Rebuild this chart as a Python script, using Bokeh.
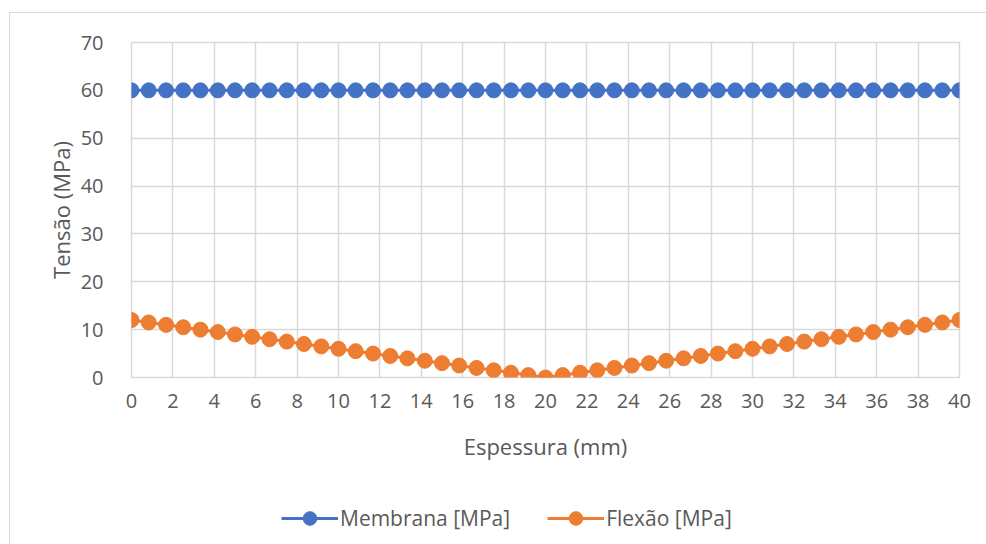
from bokeh.plotting import figure
from bokeh.models import Legend, LegendItem, FixedTicker
from bokeh.layouts import column
from bokeh.embed import file_html
from bokeh.resources import INLINE

espessura = [0, 0.83, 1.67, 2.5, 3.33, 4.17, 5, 5.83, 6.67, 7.5, 8.33, 9.17,
             10, 10.83, 11.67, 12.5, 13.33, 14.17, 15, 15.83, 16.67, 17.5, 18.33, 19.17,
             20, 20.83, 21.67, 22.5, 23.33, 24.17, 25, 25.83, 26.67, 27.5, 28.33, 29.17,
             30, 30.83, 31.67, 32.5, 33.33, 34.17, 35, 35.83, 36.67, 37.5, 38.33, 39.17, 40]
membrana = [60, 60, 60, 60, 60, 60, 60, 60, 60, 60, 60, 60,
            60, 60, 60, 60, 60, 60, 60, 60, 60, 60, 60, 60,
            60, 60, 60, 60, 60, 60, 60, 60, 60, 60, 60, 60,
            60, 60, 60, 60, 60, 60, 60, 60, 60, 60, 60, 60, 60]
flexao = [12, 11.5, 11, 10.5, 10, 9.5, 9, 8.5, 8, 7.5, 7, 6.5,
          6, 5.5, 5, 4.5, 4, 3.5, 3, 2.5, 2, 1.5, 1, 0.5,
          0, 0.5, 1, 1.5, 2, 2.5, 3, 3.5, 4, 4.5, 5, 5.5,
          6, 6.5, 7, 7.5, 8, 8.5, 9, 9.5, 10, 10.5, 11, 11.5, 12]
x_ticks = list(range(0, 41, 2))
y_ticks = [0, 10, 20, 30, 40, 50, 60, 70]
series_names = ["Membrana [MPa]", "Flexão [MPa]"]
colors = ["#4472C4", "#ED7D31"]

FONT = "Open Sans"
TXT = "#595959"
GRID = "#d9d9d9"

p = figure(width=977, height=470, output_backend="svg", toolbar_location=None,
           x_range=(0, 40), y_range=(0, 70),
           min_border_left=121, min_border_right=28, min_border_top=29, min_border_bottom=106)
p.outline_line_color = GRID
p.outline_line_width = 1.5

for ys, c in zip([membrana, flexao], colors):
    p.line(espessura, ys, line_color=c, line_width=3)
    p.scatter(espessura, ys, size=15, fill_color=c, line_color=c)

p.xaxis.ticker = FixedTicker(ticks=x_ticks)
p.yaxis.ticker = FixedTicker(ticks=y_ticks)
for ax in (p.xaxis[0], p.yaxis[0]):
    ax.axis_line_color = None
    ax.major_tick_line_color = None
    ax.minor_tick_line_color = None
    ax.major_label_text_font = FONT
    ax.major_label_text_font_size = "20px"
    ax.major_label_text_color = TXT
    ax.axis_label_text_font = FONT
    ax.axis_label_text_font_size = "22px"
    ax.axis_label_text_font_style = "normal"
    ax.axis_label_text_color = TXT

p.xaxis.axis_label = "Espessura (mm)"
p.yaxis.axis_label = "Tensão (MPa)"
p.xaxis.major_label_standoff = 10
p.xaxis.axis_label_standoff = 20
p.yaxis.major_label_standoff = 22
p.yaxis.axis_label_standoff = 2

p.xgrid.ticker = FixedTicker(ticks=x_ticks)
p.ygrid.ticker = FixedTicker(ticks=y_ticks)
p.xgrid.grid_line_color = GRID
p.ygrid.grid_line_color = GRID
p.xgrid.grid_line_width = 1.5
p.ygrid.grid_line_width = 1.5

# legend strip below the chart (same series, drawn outside its visible range)
lp = figure(width=977, height=62, output_backend="svg", toolbar_location=None,
            x_range=(1000, 1001), y_range=(1000, 1001),
            x_axis_type=None, y_axis_type=None, min_border=0)
lp.outline_line_color = None
lp.xgrid.visible = False
lp.ygrid.visible = False
items = []
for ys, c, n in zip([membrana, flexao], colors, series_names):
    l = lp.line(espessura, ys, line_color=c, line_width=3)
    s = lp.scatter(espessura, ys, size=15, fill_color=c, line_color=c)
    items.append(LegendItem(label=n, renderers=[l, s]))

legend = Legend(items=items, orientation="horizontal", location=(150, 10),
                label_text_font=FONT, label_text_font_size="21px", label_text_color=TXT,
                border_line_color=None, background_fill_alpha=0,
                glyph_width=57, glyph_height=34, spacing=37, label_standoff=2,
                padding=0, margin=0)
lp.add_layout(legend, "center")

layout = column(p, lp, spacing=0, margin=(12, 0, 0, 9))
layout.styles = {"border-top": f"1px solid {GRID}", "border-left": f"1px solid {GRID}"}

open("out.html", "w").write(file_html(layout, INLINE))
